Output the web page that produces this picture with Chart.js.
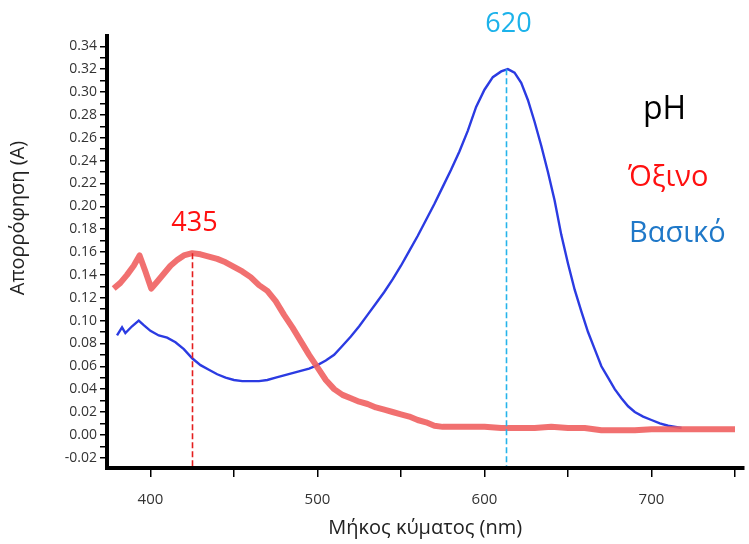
<!DOCTYPE html>
<html>
<head>
<meta charset="utf-8">
<script src="https://cdn.jsdelivr.net/npm/chart.js@4.4.0/dist/chart.umd.min.js"></script>
<style>
  html, body { margin: 0; padding: 0; background: #fff; }
</style>
</head>
<body>
<canvas id="spectrum" width="749" height="544"></canvas>
<script>
/* --------------- Data ------------------------------------------ */
const acidNm = [378, 382, 386, 390, 393.5, 397, 400.5, 404, 408, 412, 416, 420, 425, 430, 435, 440, 445, 450, 455, 460, 465, 470, 475, 480, 485, 490, 495, 500, 505, 510, 515, 520, 525, 530, 535, 540, 545, 550, 555, 560, 565, 570, 575, 580, 590, 600, 610, 620, 630, 640, 650, 660, 670, 680, 690, 700, 710, 720, 730, 740, 750];
const acidAbs = [0.128, 0.133, 0.140, 0.148, 0.157, 0.143, 0.128, 0.134, 0.141, 0.148, 0.153, 0.157, 0.159, 0.158, 0.156, 0.154, 0.151, 0.147, 0.143, 0.138, 0.131, 0.126, 0.117, 0.105, 0.094, 0.082, 0.070, 0.059, 0.048, 0.040, 0.035, 0.032, 0.029, 0.027, 0.024, 0.022, 0.020, 0.018, 0.016, 0.013, 0.011, 0.008, 0.007, 0.007, 0.007, 0.007, 0.006, 0.006, 0.006, 0.007, 0.006, 0.006, 0.004, 0.004, 0.004, 0.005, 0.005, 0.005, 0.005, 0.005, 0.005];

const basicNm = [380, 383, 385, 389, 393, 396, 400, 405, 410, 415, 420, 425, 430, 435, 440, 445, 450, 455, 460, 465, 470, 475, 480, 485, 490, 495, 500, 505, 510, 515, 520, 525, 530, 535, 540, 545, 550, 555, 560, 565, 570, 575, 580, 585, 590, 595, 600, 605, 610, 614, 618, 622, 626, 630, 634, 638, 642, 646, 650, 654, 658, 662, 666, 670, 674, 678, 682, 686, 690, 695, 700, 705, 710, 718];
const basicAbs = [0.087, 0.094, 0.089, 0.095, 0.100, 0.096, 0.091, 0.087, 0.085, 0.081, 0.075, 0.067, 0.061, 0.057, 0.053, 0.050, 0.048, 0.047, 0.047, 0.047, 0.048, 0.050, 0.052, 0.054, 0.056, 0.058, 0.061, 0.065, 0.070, 0.078, 0.086, 0.095, 0.105, 0.115, 0.125, 0.136, 0.148, 0.161, 0.174, 0.188, 0.202, 0.217, 0.232, 0.248, 0.266, 0.287, 0.302, 0.313, 0.318, 0.320, 0.317, 0.308, 0.293, 0.274, 0.253, 0.230, 0.205, 0.175, 0.150, 0.127, 0.108, 0.090, 0.075, 0.060, 0.050, 0.040, 0.032, 0.025, 0.020, 0.016, 0.013, 0.010, 0.008, 0.006];

/* --------------- Axes --------------------- */
const xTicks = [400, 450, 500, 550, 600, 650, 700, 750];
const xLabels = ['400', '', '500', '', '600', '', '700', ''];
const yMajor = [-0.02, 0.00, 0.02, 0.04, 0.06, 0.08, 0.10, 0.12, 0.14, 0.16, 0.18, 0.20, 0.22, 0.24, 0.26, 0.28, 0.30, 0.32, 0.34];
const yMinor = [-0.01, 0.01, 0.03, 0.05, 0.07, 0.09, 0.11, 0.13, 0.15, 0.17, 0.19, 0.21, 0.23, 0.25, 0.27, 0.29, 0.31, 0.33];

/* --------------- Peak markers and side labels --------------------- */
const peaks = [
  { nm: 425, abs: 0.159, label: '435', color: '#e41e1e', textColor: '#ff1010', lift: 22 },
  { nm: 613, abs: 0.320, label: '620', color: '#26b4ea', textColor: '#1cb2ea', lift: 37 },
];
const sideLabels = [
  { text: 'pH', color: '#000000', size: 32, x: 643, y: 119 },
  { text: 'Όξινο', color: '#ff1010', size: 29, x: 628, y: 186 },
  { text: 'Βασικό', color: '#1f78c8', size: 29, x: 629, y: 242 },
];

const FONT = "'Open Sans', 'Noto Sans', sans-serif";

const toPoints = (xs, ys) => xs.map((x, i) => ({ x: x, y: ys[i] }));

const annotate = {
  id: 'annotate',
  afterDatasetsDraw(chart) {
    const ctx = chart.ctx;
    const xs = chart.scales.x;
    const ys = chart.scales.y;
    const bottom = chart.chartArea.bottom;
    ctx.save();
    // dashed drop lines and peak numbers
    peaks.forEach(p => {
      const px = Math.round(xs.getPixelForValue(p.nm)) + 0.5;
      const py = ys.getPixelForValue(p.abs);
      ctx.strokeStyle = p.color;
      ctx.lineWidth = 1.6;
      ctx.setLineDash([6, 3]);
      ctx.beginPath();
      ctx.moveTo(px, py);
      ctx.lineTo(px, bottom - 2);
      ctx.stroke();
      ctx.setLineDash([]);
      ctx.fillStyle = p.textColor;
      ctx.font = '27px ' + FONT;
      ctx.textAlign = 'center';
      ctx.textBaseline = 'alphabetic';
      ctx.fillText(p.label, px + 2, py - p.lift);
    });
    // pH legend texts
    sideLabels.forEach(s => {
      ctx.fillStyle = s.color;
      ctx.font = s.size + 'px ' + FONT;
      ctx.textAlign = 'left';
      ctx.fillText(s.text, s.x, s.y);
    });
    // y axis title
    ctx.translate(18, 218);
    ctx.rotate(-Math.PI / 2);
    ctx.fillStyle = '#222';
    ctx.font = '20px ' + FONT;
    ctx.textAlign = 'center';
    ctx.textBaseline = 'middle';
    ctx.fillText('Απορρόφηση (A)', 0, 0);
    ctx.restore();
  }
};

/* --------------- Chart --------------------- */
const spectrum = new Chart(document.getElementById('spectrum'), {
  type: 'line',
  plugins: [annotate],
  data: {
    datasets: [
      {
        label: 'Όξινο',
        data: toPoints(acidNm, acidAbs),
        borderColor: 'rgba(240, 96, 96, 0.9)',
        borderWidth: 6,
        pointRadius: 0,
        tension: 0,
        borderJoinStyle: 'round',
      },
      {
        label: 'Βασικό',
        data: toPoints(basicNm, basicAbs),
        borderColor: '#2b3be2',
        borderWidth: 2.4,
        pointRadius: 0,
        tension: 0,
      },
    ],
  },
  options: {
    responsive: false,
    animation: false,
    layout: { padding: { top: 36, right: 0, bottom: 0, left: 0 } },
    plugins: {
      legend: { display: false },
      tooltip: { enabled: false },
    },
    scales: {
      x: {
        type: 'linear',
        min: 374,
        max: 755,
        afterBuildTicks: (scale) => { scale.ticks = xTicks.map(v => ({ value: v })); },
        afterFit: (scale) => { scale.height = 76; },
        border: { display: true, color: '#000', width: 4 },
        grid: { drawOnChartArea: false, color: '#000', lineWidth: 1.5, tickLength: 9 },
        ticks: {
          color: '#333',
          font: { family: FONT, size: 15 },
          padding: 14,
          maxRotation: 0,
          autoSkip: false,
          callback: (value, index) => xLabels[index],
        },
        title: {
          display: true,
          text: 'Μήκος κύματος (nm)',
          color: '#222',
          font: { family: FONT, size: 20 },
          padding: { top: 0, bottom: 4 },
        },
      },
      y: {
        min: -0.029,
        max: 0.349,
        afterBuildTicks: (scale) => {
          scale.ticks = yMajor.concat(yMinor).sort((a, b) => a - b).map(v => ({ value: v }));
        },
        afterFit: (scale) => { scale.width = 107; },
        border: { display: true, color: '#000', width: 4 },
        grid: { drawOnChartArea: false, color: '#000', lineWidth: 1.5, tickLength: 7 },
        ticks: {
          color: '#333',
          font: { family: FONT, size: 14 },
          padding: 3,
          autoSkip: false,
          callback: (value) => yMajor.some(m => Math.abs(m - value) < 1e-6) ? value.toFixed(2) : '',
        },
      },
    },
  },
});
</script>
</body>
</html>
